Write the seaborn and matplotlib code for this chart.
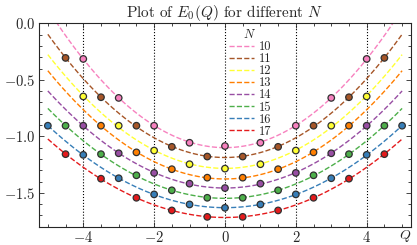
import numpy as np
import pandas as pd
import seaborn as sns
import matplotlib.pyplot as plt
from matplotlib.ticker import MultipleLocator

# energies, symmetric in Q
n_values = [10, 11, 12, 13, 14, 15, 16, 17]

q_n10 = [-4, -3, -2, -1, 0, 1, 2, 3, 4]
e_n10 = [-0.315, -0.660, -0.906, -1.057, -1.086, -1.057, -0.906, -0.660, -0.315]

q_n11 = [-4.5, -3.5, -2.5, -1.5, -0.5, 0.5, 1.5, 2.5, 3.5, 4.5]
e_n11 = [-0.306, -0.654, -0.906, -1.093, -1.179, -1.179, -1.093, -0.906, -0.654, -0.306]

q_n12 = [-4, -3, -2, -1, 0, 1, 2, 3, 4]
e_n12 = [-0.647, -0.906, -1.126, -1.247, -1.286, -1.247, -1.126, -0.906, -0.647]

q_n13 = [-3.5, -2.5, -1.5, -0.5, 0.5, 1.5, 2.5, 3.5]
e_n13 = [-0.906, -1.142, -1.291, -1.366, -1.366, -1.291, -1.142, -0.906]

q_n14 = [-4, -3, -2, -1, 0, 1, 2, 3, 4]
e_n14 = [-0.906, -1.150, -1.324, -1.419, -1.458, -1.419, -1.324, -1.150, -0.906]

q_n15 = [-4.5, -3.5, -2.5, -1.5, -0.5, 0.5, 1.5, 2.5, 3.5, 4.5]
e_n15 = [-0.906, -1.158, -1.345, -1.478, -1.544, -1.544, -1.478, -1.345, -1.158, -0.906]

q_n16 = [-5, -4, -3, -2, -1, 0, 1, 2, 3, 4, 5]
e_n16 = [-0.906, -1.164, -1.371, -1.514, -1.603, -1.633, -1.603, -1.514, -1.371, -1.164, -0.906]

q_n17 = [-4.5, -3.5, -2.5, -1.5, -0.5, 0.5, 1.5, 2.5, 3.5, 4.5]
e_n17 = [-1.158, -1.375, -1.544, -1.656, -1.713, -1.713, -1.656, -1.544, -1.375, -1.158]

q_lists = [q_n10, q_n11, q_n12, q_n13, q_n14, q_n15, q_n16, q_n17]
e_lists = [e_n10, e_n11, e_n12, e_n13, e_n14, e_n15, e_n16, e_n17]

df = pd.concat([pd.DataFrame({"N": n, "Q": q, "E0": e})
                for n, q, e in zip(n_values, q_lists, e_lists)], ignore_index=True)

sns.set_style("ticks")
plt.rcParams["font.family"] = "serif"
plt.rcParams["font.serif"] = ["cmr10", "DejaVu Serif"]
plt.rcParams["mathtext.fontset"] = "cm"
plt.rcParams["axes.formatter.use_mathtext"] = True
plt.rcParams["font.size"] = 10

palette = sns.color_palette("Set1", 8)[::-1]
colors = dict(zip(n_values, palette))

fig = plt.figure(figsize=(4.17, 2.45), dpi=100)
ax = fig.add_axes([0.0935, 0.0747, 0.892, 0.830])

# fitted parabolas over the Q window of the data
ax.set_xlim(-5, 5)
for n in n_values:
    sub = df[df["N"] == n]
    sns.regplot(data=sub, x="Q", y="E0", order=2, ci=None, truncate=False,
                scatter=False, ax=ax, color=colors[n], label=str(n),
                line_kws=dict(ls="--", lw=1.0, zorder=2))

sns.scatterplot(data=df, x="Q", y="E0", hue="N", palette=colors, legend=False,
                s=22, edgecolor="#303030", linewidth=0.9, zorder=3, ax=ax)

ax.set_xlim(-5.25, 5.25)
ax.set_ylim(-1.8, 0)
ax.xaxis.set_major_locator(MultipleLocator(2))
ax.xaxis.set_minor_locator(MultipleLocator(0.5))
ax.yaxis.set_major_locator(MultipleLocator(0.5))
ax.yaxis.set_minor_locator(MultipleLocator(0.1))
ax.tick_params(which="both", direction="in", top=True, right=True, width=0.6)
ax.tick_params(which="major", length=3.5, labelsize=10.5, pad=2.5)
ax.tick_params(which="minor", length=2)
for sp in ax.spines.values():
    sp.set_linewidth(0.8)
ax.grid(axis="x", which="major", color="black", ls=":", lw=0.8)
ax.set_axisbelow(True)

ax.set_ylabel("")
ax.set_xlabel("$Q$", fontsize=10)
ax.xaxis.set_label_coords(0.985, -0.005)
ax.set_title(r"Plot of $E_0(Q)$ for different $N$", fontsize=11, pad=3)

ax.legend(title="$N$", loc="upper left", bbox_to_anchor=(0.49, 1.015), frameon=False,
          fontsize=9, title_fontsize=9, labelspacing=0.0, handlelength=2.0,
          handletextpad=0.4, borderaxespad=0.2)

fig.savefig("out.png", dpi=100)
